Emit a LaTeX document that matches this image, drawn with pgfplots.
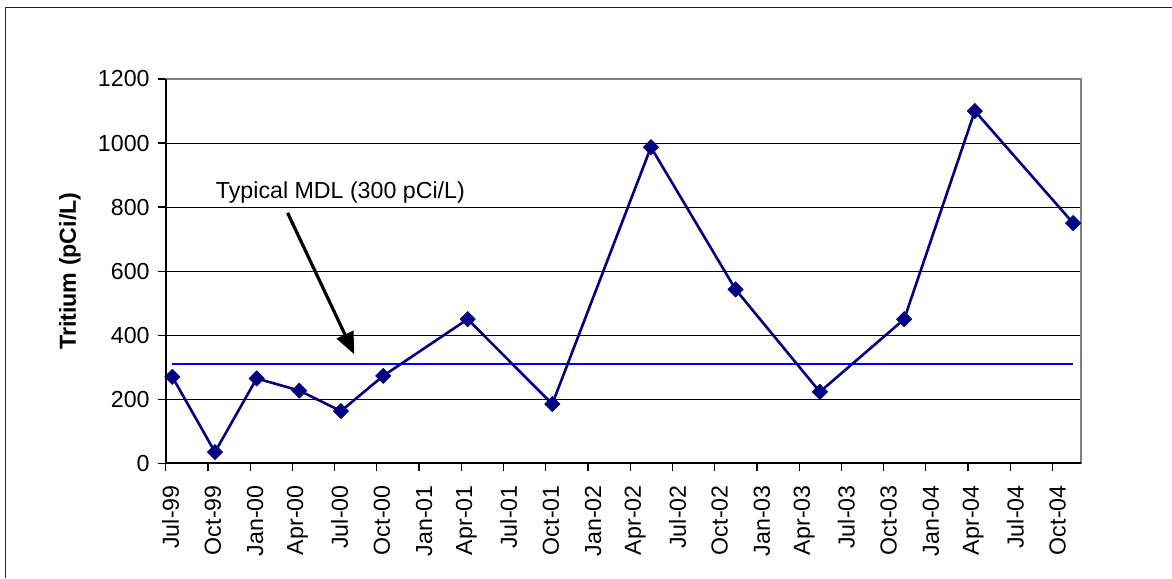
\documentclass[border=0pt]{standalone}
\usepackage{pgfplots}
\pgfplotsset{compat=1.18}
\usepackage{fontspec}
\setmainfont{Liberation Sans}
\usetikzlibrary{arrows.meta}
\definecolor{series}{RGB}{0,0,128}
\definecolor{mdl}{RGB}{0,0,255}
\definecolor{border}{RGB}{128,128,128}
\newcommand{\chartfont}{\fontsize{11.6}{13.5}\selectfont}
\begin{document}
\chartfont
\begin{tikzpicture}
\path[use as bounding box] (0,0) rectangle (586pt,289pt);
\draw[line width=0.9pt, black!85] (2.75pt,0) -- (2.75pt,285.25pt) -- (586pt,285.25pt);
\begin{axis}[
  at={(82.85pt,57.35pt)}, anchor=south west,
  scale only axis, width=457.5pt, height=192.15pt,
  xmin=0, xmax=65, ymin=0, ymax=1200,
  xtick={0,3,...,63},
  xticklabels={Jul-99,Oct-99,Jan-00,Apr-00,Jul-00,Oct-00,Jan-01,Apr-01,Jul-01,Oct-01,Jan-02,Apr-02,Jul-02,Oct-02,Jan-03,Apr-03,Jul-03,Oct-03,Jan-04,Apr-04,Jul-04,Oct-04},
  ytick={0,200,...,1200},
  ymajorgrids, grid style={black, line width=0.5pt},
  axis line style={border, line width=1pt},
  tick pos=left, tick align=outside, major tick length=4pt,
  tick style={black, line width=0.6pt},
  /pgf/number format/assume math mode=true,
  /pgf/number format/1000 sep={},
  ticklabel style={font=\chartfont},
  xticklabel style={xshift=2.5pt, yshift=-3pt, rotate=90, anchor=east},
  ylabel={\bfseries Tritium (pCi/L)},
  ylabel style={at={(axis description cs:-0.1046,0.5)}, anchor=center, font=\chartfont},
  clip=false,
]
\addplot[mdl, line width=0.9pt] coordinates {(0.47,310) (64.46,310)};
\addplot[series, line width=1.3pt, mark=square*, mark size=2.7pt,
  mark options={rotate=45, fill=series, draw=series, line width=0.3pt}] coordinates {
  (0.47,270) (3.5,35) (6.46,265) (9.49,227) (12.45,163) (15.45,273)
  (21.45,450) (27.46,185) (34.47,987) (40.48,543) (46.47,223)
  (52.46,450) (57.48,1100) (64.46,750)
};
\draw[black, line width=1pt] (rel axis cs:0,1) -- (rel axis cs:0,0) -- (rel axis cs:1,0);
\node[font=\chartfont] at (axis cs:12.41,847) {Typical MDL (300 pCi/L)};
\draw[-{Triangle[length=11pt,width=9pt]}, line width=1.6pt] (axis cs:8.66,782) -- (axis cs:13.40,340);
\end{axis}
\end{tikzpicture}
\end{document}
